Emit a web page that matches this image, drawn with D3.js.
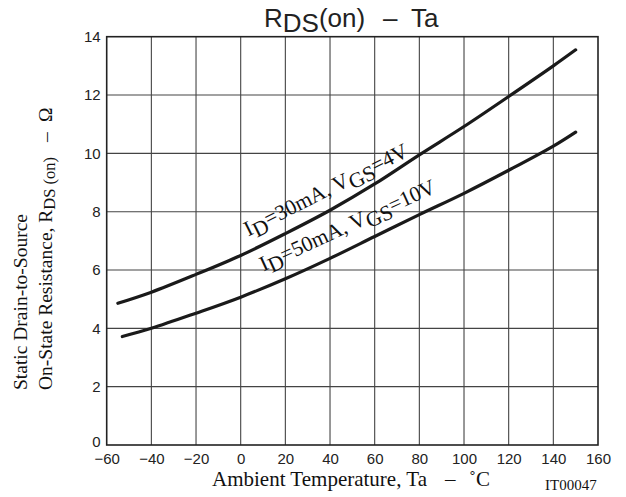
<!DOCTYPE html>
<html><head><meta charset="utf-8">
<script src="https://cdn.jsdelivr.net/npm/d3@7"></script>
<style>
html,body{margin:0;padding:0;background:#fff;}
svg{display:block;}
.sans{font-family:"Liberation Sans",Arial,sans-serif;}
.serif{font-family:"Liberation Serif","Times New Roman",serif;}
</style></head>
<body>
<svg id="c" width="626" height="497"></svg>
<script>
// ---- data ----
const xTicks = [-60,-40,-20,0,20,40,60,80,100,120,140,160];
const yTicks = [0,2,4,6,8,10,12,14];
const upperT = [-55,-40,-20,0,20,40,60,80,100,120,140,150];
const upperR = [4.86,5.24,5.85,6.5,7.25,8.05,8.95,9.95,10.92,11.95,13.0,13.55];
const lowerT = [-53,-40,-20,0,20,40,60,80,100,120,140,150];
const lowerR = [3.72,4.0,4.52,5.07,5.7,6.4,7.15,7.9,8.63,9.42,10.25,10.73];

const svg = d3.select("#c");
const L=106.7, R=598, T=36.7, B=445;
const x = d3.scaleLinear().domain([-60,160]).range([L,R]);
const y = d3.scaleLinear().domain([0,14]).range([B,T]);

// grid
const g = svg.append("g");
g.selectAll("line.v").data(xTicks.slice(1,-1)).enter().append("line")
  .attr("x1",d=>x(d)).attr("x2",d=>x(d)).attr("y1",T).attr("y2",B)
  .attr("stroke","#444").attr("stroke-width",1.1);
g.selectAll("line.h").data(yTicks.slice(1,-1)).enter().append("line")
  .attr("y1",d=>y(d)).attr("y2",d=>y(d)).attr("x1",L).attr("x2",R)
  .attr("stroke","#444").attr("stroke-width",1.1);
g.append("rect").attr("x",L).attr("y",T).attr("width",R-L).attr("height",B-T)
  .attr("fill","none").attr("stroke","#222").attr("stroke-width",1.6);

// axes tick labels
const xAxis = d3.axisBottom(x).tickValues(xTicks).tickSize(0).tickPadding(8)
  .tickFormat(d=>d<0? "\u2212"+Math.abs(d) : d);
const xa = svg.append("g").attr("transform",`translate(0,${B})`).call(xAxis);
xa.select(".domain").remove();
xa.selectAll("text").attr("font-size",15).attr("fill","#222")
  .attr("font-family","Liberation Sans, Arial, sans-serif").attr("dy","0.71em");
const yAxis = d3.axisLeft(y).tickValues(yTicks).tickSize(0).tickPadding(6);
const ya = svg.append("g").attr("transform",`translate(${L},0)`).call(yAxis);
ya.select(".domain").remove();
ya.selectAll("text").attr("font-size",15).attr("fill","#222")
  .attr("font-family","Liberation Sans, Arial, sans-serif")
  .attr("dy",d=>d===0?"0.07em":"0.32em");

// curves
const line = d3.line().x(d=>x(d[0])).y(d=>y(d[1])).curve(d3.curveCatmullRom);
[[upperT,upperR],[lowerT,lowerR]].forEach(([ts,rs])=>{
  svg.append("path").datum(ts.map((t,i)=>[t,rs[i]])).attr("d",line)
    .attr("fill","none").attr("stroke","#1a1a1a").attr("stroke-width",3.2)
    .attr("stroke-linecap","round");
});

// curve labels
function curveLabel(tx,ty,ang,parts){
  const t = svg.append("text").attr("class","serif").attr("font-size",21.5).attr("fill","#111")
    .attr("transform",`translate(${x(tx)},${y(ty)}) rotate(${ang})`);
  parts.forEach(p=>{
    t.append("tspan").text(p[0]).attr("dy",p[1]);
  });
}
curveLabel(3.4,7.15,-26.6,[["I",0],["D",5],["=30mA, V",-5],["GS",5],["=4V",-5]]);
curveLabel(10.2,5.95,-24.6,[["I",0],["D",5],["=50mA, V",-5],["GS",5],["=10V",-5]]);

// title
const tt = svg.append("text").attr("class","sans").attr("font-size",26).attr("fill","#222")
  .attr("x",264).attr("y",26.7);
tt.append("tspan").text("R");
tt.append("tspan").text("DS").attr("dy",5);
tt.append("tspan").text("(on)").attr("dy",-5);
tt.append("tspan").text("\u2013").attr("x",383);
tt.append("tspan").text("Ta").attr("x",411);

// x title
const xt = svg.append("text").attr("class","serif").attr("font-size",21).attr("fill","#111")
  .attr("x",212).attr("y",486);
xt.append("tspan").text("Ambient Temperature, Ta");
xt.append("tspan").text("\u2013").attr("x",445);
xt.append("tspan").text("\u02DAC").attr("x",469);

svg.append("text").attr("class","serif").attr("font-size",15).attr("fill","#111")
  .attr("x",596.7).attr("y",490).attr("text-anchor","end").text("IT00047");

// y title
svg.append("text").attr("class","serif").attr("font-size",19.5).attr("fill","#111")
  .attr("transform","translate(26.7,390) rotate(-90)").text("Static Drain-to-Source");
const yt = svg.append("text").attr("class","serif").attr("font-size",19.5).attr("fill","#111")
  .attr("transform","translate(51.7,390) rotate(-90)");
yt.append("tspan").text("On-State Resistance, R");
yt.append("tspan").text("DS (on)").attr("font-size",16.5).attr("dy",3);
yt.append("tspan").text("\u2013").attr("dy",-3).attr("x",248);
yt.append("tspan").text("\u03A9").attr("x",268);
</script>
</body></html>
